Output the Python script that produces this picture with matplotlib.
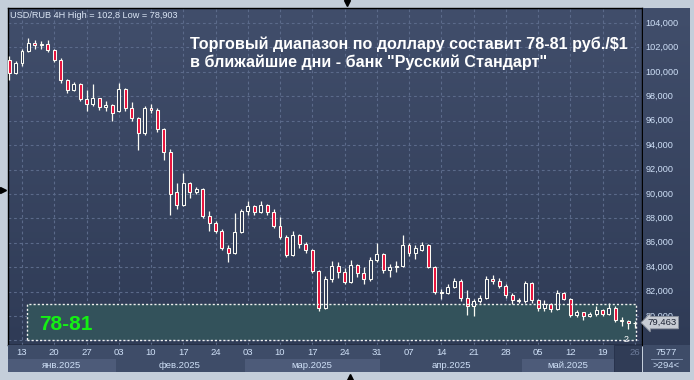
import numpy as np
import matplotlib
matplotlib.use("Agg")
import matplotlib.pyplot as plt
from matplotlib.patches import Rectangle
from matplotlib.colors import LinearSegmentedColormap

plt.rcParams['font.family'] = ['Liberation Sans', 'DejaVu Sans']

W, H = 694, 380

# USD/RUB daily bars, 09 Jan .. 26 May 2025
opens = [101.0, 99.9, 100.7, 101.7, 102.4, 102.2, 102.3, 101.8, 101.0, 99.3,
         98.5, 99.0, 97.8, 97.4, 97.9, 97.1, 97.3, 96.8, 98.6, 97.0,
         96.2, 95.0, 97.0, 96.9, 95.3, 93.4, 90.2, 89.1, 90.9, 90.2,
         90.4, 88.2, 87.6, 87.0, 85.6, 85.2, 86.9, 88.6, 89.0, 88.5,
         89.1, 88.5, 87.4, 86.5, 85.0, 86.6, 85.9, 85.4, 83.7, 80.7,
         83.0, 84.1, 83.6, 82.8, 84.2, 83.5, 83.0, 84.6, 85.1, 83.8,
         84.0, 84.1, 85.8, 85.2, 85.4, 85.8, 84.0, 82.0, 81.9, 82.4,
         82.9, 81.5, 80.8, 81.2, 81.5, 83.0, 82.9, 82.5, 81.7, 81.3,
         81.25, 82.7, 81.3, 80.7, 81.0, 80.6, 81.9, 81.4, 80.1, 80.3,
         80.0, 80.2, 80.5, 80.2, 80.7, 79.7, 79.6, 79.4]
closes = [99.9, 100.7, 101.7, 102.4, 102.2, 102.3, 101.8, 101.0, 99.3, 98.5,
          99.0, 97.8, 97.4, 97.9, 97.1, 97.3, 96.6, 98.6, 97.0, 96.2,
          95.0, 97.0, 96.9, 95.3, 93.4, 90.0, 89.1, 90.9, 90.2, 90.4,
          88.2, 87.6, 87.0, 85.6, 85.2, 86.9, 88.6, 89.0, 88.5, 89.1,
          88.5, 87.4, 86.5, 85.0, 86.6, 85.9, 85.4, 83.7, 80.7, 83.0,
          84.1, 83.6, 82.8, 84.2, 83.5, 83.0, 84.6, 85.1, 83.8, 84.0,
          84.1, 85.8, 85.2, 85.6, 85.8, 84.0, 82.0, 81.9, 82.4, 82.9,
          81.5, 80.8, 81.2, 81.5, 83.0, 82.9, 82.5, 81.7, 81.3, 81.25,
          82.7, 81.3, 80.7, 81.0, 80.6, 81.9, 81.4, 80.1, 80.3, 80.0,
          80.2, 80.5, 80.2, 80.7, 79.7, 79.6, 79.4, 79.463]
highs = [101.3, 100.9, 101.9, 102.8, 102.6, 102.5, 102.6, 101.9, 101.1, 99.4,
         99.2, 99.1, 98.5, 99.0, 97.9, 97.6, 97.4, 99.1, 98.7, 97.5,
         96.3, 97.2, 97.4, 97.0, 95.4, 93.7, 90.9, 91.7, 91.0, 90.6,
         90.5, 88.6, 87.8, 87.1, 85.8, 88.4, 88.8, 89.4, 89.1, 89.4,
         89.2, 88.8, 88.1, 86.6, 87.0, 86.7, 86.1, 85.5, 83.8, 83.3,
         84.5, 84.4, 83.9, 84.6, 84.3, 84.0, 84.8, 85.95, 85.2, 84.3,
         84.5, 86.6, 86.0, 85.8, 86.1, 85.9, 84.1, 82.2, 82.6, 83.1,
         83.0, 82.1, 81.4, 81.7, 83.3, 83.4, 83.1, 82.6, 81.9, 81.5,
         82.9, 82.8, 81.4, 81.3, 81.1, 82.1, 82.0, 81.5, 80.5, 80.3,
         80.3, 80.8, 80.6, 81.1, 80.8, 79.9, 79.7, 79.6]
lows = [99.3, 99.8, 100.5, 101.6, 101.9, 101.9, 101.6, 100.8, 99.1, 98.3,
        98.4, 97.6, 96.8, 97.2, 96.9, 96.8, 96.0, 96.7, 96.8, 96.0,
        93.6, 94.8, 96.6, 95.1, 92.8, 88.3, 88.8, 89.0, 89.7, 90.0,
        88.0, 87.0, 86.8, 85.4, 84.45, 85.1, 86.8, 88.3, 88.3, 88.4,
        88.3, 87.2, 86.3, 84.8, 84.9, 85.6, 85.2, 83.5, 80.4, 80.6,
        82.8, 83.1, 82.6, 82.7, 83.2, 82.6, 82.9, 84.4, 83.5, 83.2,
        83.6, 84.0, 84.9, 84.7, 85.3, 83.9, 81.8, 81.4, 81.8, 82.3,
        81.2, 80.1, 80.0, 81.1, 81.4, 82.6, 82.3, 81.5, 81.0, 81.1,
        81.1, 81.1, 80.4, 80.4, 80.3, 80.5, 81.3, 79.9, 79.9, 79.7,
        79.9, 80.0, 80.0, 80.1, 79.5, 79.2, 78.903, 79.0]

week_labels = ['13', '20', '27', '03', '10', '17', '24', '03', '10', '17',
               '24', '31', '07', '14', '21', '28', '05', '12', '19', '26']
week_bars = [2, 7, 12, 17, 22, 27, 32, 37, 42, 47,
             52, 57, 62, 67, 72, 77, 82, 87, 92, 97]
month_names = ['янв.2025', 'фев.2025', 'мар.2025', 'апр.2025', 'май.2025']
month_edges = [-0.17, 16.5, 36.5, 57.5, 79.5, 93.8]
range_low, range_high = 78, 81
last_price = 79.463

XL = (-0.17, 98.12)
YL = (77.63, 105.23)

fig = plt.figure(figsize=(W / 100, H / 100), dpi=100, facecolor='#c4ceda')


def px_axes(x0, y0, x1, y1):
    return fig.add_axes([x0 / W, 1 - y1 / H, (x1 - x0) / W, (y1 - y0) / H])


bg = LinearSegmentedColormap.from_list('bg', ['#414e6b', '#2f3b56'])
grad = np.linspace(0, 1, 256).reshape(-1, 1)

# main price panel
ax = px_axes(8, 8, 642, 345)
ax.set_xlim(*XL)
ax.set_ylim(*YL)
ax.imshow(grad, cmap=bg, extent=[XL[0], XL[1], YL[0], YL[1]], aspect='auto',
          origin='upper', zorder=0)
for v in range(78, 106, 2):
    ax.axhline(v, color='#5b6a8a', ls=(0, (2.5, 2.5)), lw=0.8, zorder=1)
for b in week_bars:
    ax.axvline(b, color='#5b6a8a', ls=(0, (2.5, 2.5)), lw=0.8, zorder=1)

ax.add_patch(Rectangle((2.78, range_low), 97.2 - 2.78, range_high - range_low,
                       fc='#33525b', ec='none', zorder=2))
ax.add_patch(Rectangle((2.78, range_low), 97.2 - 2.78, range_high - range_low,
                       fc='none', ec='#f0f0f0', ls=(0, (1.5, 1.5)), lw=1, zorder=5))
ax.text(4.6, 79.27, '78-81', color='#14f014', fontsize=15, fontweight='bold',
        va='center', ha='left', zorder=6)

for i in range(len(closes)):
    o, c, h, l = opens[i], closes[i], highs[i], lows[i]
    ax.vlines(i, l, h, color='#fbfbf4', lw=0.9, zorder=3)
    face = '#e8123c' if c < o else '#2f3b56'
    ax.add_patch(Rectangle((i - 0.23, min(o, c)), 0.46, max(abs(c - o), 0.06),
                           fc=face, ec='#fbfbf4', lw=0.75, zorder=4))

ax.set_xticks([])
ax.set_yticks([])
for s in ax.spines.values():
    s.set_color('black')
    s.set_linewidth(1)

# right price scale
axr = px_axes(643, 8, 690, 345)
axr.set_xlim(0, 1)
axr.set_ylim(*YL)
axr.imshow(grad, cmap=bg, extent=[0, 1, YL[0], YL[1]], aspect='auto',
           origin='upper', zorder=0)
for v in range(80, 106, 2):
    axr.text(0.06, v, f'{v},000', color='#cfe0f7', fontsize=6.6, va='center',
             ha='left', zorder=2)
axr.text(0.1, last_price, f'{last_price:.3f}'.replace('.', ','), color='#1c2233',
         fontsize=6.8, va='center', ha='left', zorder=4,
         bbox=dict(boxstyle='larrow,pad=0.18', fc='#c8ccd4', ec='#8a909c', lw=0.6))
axr.set_xticks([])
axr.set_yticks([])
for s in axr.spines.values():
    s.set_visible(False)

# bottom date scale
axb = px_axes(8, 345, 642, 372)
axb.set_xlim(*XL)
axb.set_ylim(0, 1)
axb.set_facecolor('#3e4c68')
for k, name in enumerate(month_names):
    x0, x1 = month_edges[k], month_edges[k + 1]
    if k % 2 == 0:
        axb.add_patch(Rectangle((x0, 0), x1 - x0, 0.5, fc='#4d5b79', ec='none'))
    axb.text((x0 + x1) / 2, 0.24, name, color='#cfe0f7', fontsize=6.8,
             ha='center', va='center')
axb.add_patch(Rectangle((month_edges[-1], 0), XL[1] - month_edges[-1], 1,
                        fc='#303c56', ec='#26304a', lw=0.6, zorder=2))
for b, lab in zip(week_bars, week_labels):
    col = '#6b7a99' if b > month_edges[-1] else '#cfe0f7'
    axb.text(b, 0.73, lab, color=col, fontsize=6.8, ha='center', va='center',
             zorder=3)
axb.set_xticks([])
axb.set_yticks([])
for s in axb.spines.values():
    s.set_visible(False)

# corner box
axc = px_axes(643, 345, 690, 372)
axc.set_xlim(0, 1)
axc.set_ylim(0, 1)
axc.set_facecolor('#3e4c68')
axc.text(0.5, 0.74, '7577', color='#cfe0f7', fontsize=6.8, ha='center', va='center')
axc.plot([0.18, 0.82], [0.5, 0.5], color='#8a9ab8', lw=0.6)
axc.text(0.5, 0.25, '>294<', color='#cfe0f7', fontsize=6.8, ha='center', va='center')
axc.set_xticks([])
axc.set_yticks([])
for s in axc.spines.values():
    s.set_visible(False)

# texts and frame markers in pixel space
ov = fig.add_axes([0, 0, 1, 1])
ov.set_xlim(0, W)
ov.set_ylim(H, 0)
ov.axis('off')
ov.patch.set_alpha(0)
ov.text(10, 15, 'USD/RUB 4H High = 102,8 Low = 78,903', color='#dbe6f5',
        fontsize=6.6, va='center', ha='left')
ov.text(190, 44, 'Торговый диапазон по доллару составит 78-81 руб./$1',
        color='white', fontsize=11.6, fontweight='bold', va='center', ha='left')
ov.text(190, 62, 'в ближайшие дни - банк "Русский Стандарт"',
        color='white', fontsize=11.6, fontweight='bold', va='center', ha='left')
ov.text(626, 340, '2', color='white', fontsize=6.5, va='center', ha='center')
ov.plot([347], [3], marker='v', color='black', ms=5)
ov.plot([350], [377], marker='^', color='black', ms=5)
ov.plot([3], [190], marker='>', color='black', ms=5)

fig.savefig('out.png', dpi=100, facecolor=fig.get_facecolor())
